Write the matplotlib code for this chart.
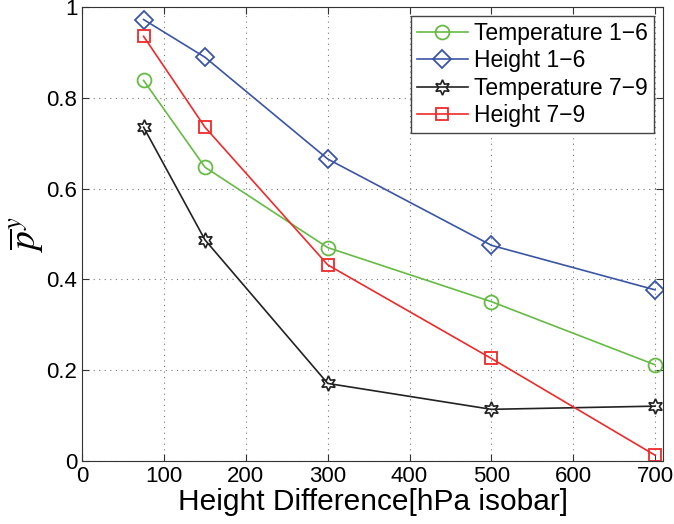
import matplotlib
matplotlib.use("Agg")
import matplotlib.pyplot as plt

x = [75, 150, 300, 500, 700]
temp_1_6 = [0.838, 0.647, 0.470, 0.351, 0.212]
height_1_6 = [0.972, 0.889, 0.665, 0.475, 0.377]
temp_7_9 = [0.735, 0.487, 0.171, 0.114, 0.121]
height_7_9 = [0.935, 0.735, 0.432, 0.226, 0.013]

plt.rcParams['font.family'] = ['Liberation Sans', 'DejaVu Sans']
plt.rcParams['mathtext.fontset'] = 'stix'

fig = plt.figure(figsize=(6.74, 5.24), dpi=100)
ax = fig.add_axes([0.122, 0.12, 0.862, 0.867])

lw = 1.2
ax.plot(x, temp_1_6, color='#66bb44', marker='o', ms=10, mfc='none', mew=1.3, lw=lw, label='Temperature 1\u22126')
ax.plot(x, height_1_6, color='#3b55a6', marker='D', ms=9, mfc='none', mew=1.3, lw=lw, label='Height 1\u22126')
ax.plot(x, temp_7_9, color='#222222', marker=(6, 1, 0), ms=11, mfc='none', mew=1.2, lw=lw, label='Temperature 7\u22129')
ax.plot(x, height_7_9, color='#ee2a2a', marker='s', ms=8, mfc='none', mew=1.3, lw=lw, label='Height 7\u22129')

ax.set_xlim(0, 710)
ax.set_ylim(0, 1)
ax.set_xticks([0, 100, 200, 300, 400, 500, 600, 700])
ax.set_yticks([0, 0.2, 0.4, 0.6, 0.8, 1])
ax.set_yticklabels(['0', '0.2', '0.4', '0.6', '0.8', '1'])
ax.grid(True, linestyle=(0, (1, 4)), color='#777777', lw=0.8)
ax.tick_params(direction='in', top=True, right=True, length=5, labelsize=16, color='#333333')
for s in ax.spines.values():
    s.set_color('#333333')

ax.set_xlabel('Height Difference[hPa isobar]', fontsize=21.5, labelpad=1)
ax.set_ylabel(r'$\overline{p}^{y}$', fontsize=27, labelpad=0)

leg = ax.legend(loc='upper right', fontsize=16.5, handlelength=2.2, fancybox=False,
                framealpha=1, edgecolor='#444444', borderaxespad=0.4,
                labelspacing=0.2, borderpad=0.25, handletextpad=0.3)
leg.get_frame().set_linewidth(1.0)

fig.savefig('out.png', dpi=100)
